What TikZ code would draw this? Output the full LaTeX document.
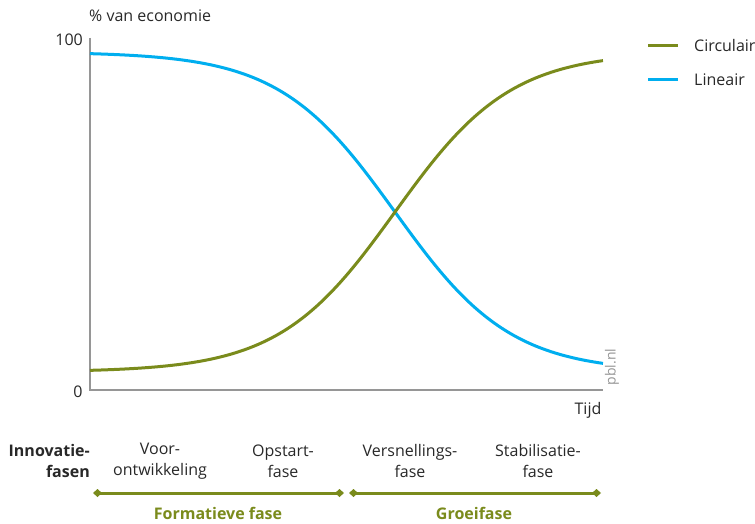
\documentclass[tikz,border=0pt]{standalone}
\usepackage{fontspec}
\setmainfont{Open Sans}
\usetikzlibrary{arrows.meta}
\definecolor{circgreen}{RGB}{122,139,28}
\definecolor{linblue}{RGB}{0,174,239}
\definecolor{axisgrey}{RGB}{150,150,150}
\definecolor{txtgrey}{RGB}{40,40,40}
\begin{document}
\begin{tikzpicture}[
    x=1pt, y=-1pt,
    lbl/.style = {text=txtgrey, font=\fontsize{16}{21}\selectfont, inner sep=0pt},
    phase/.style = {lbl, align=center},
    period/.style = {text=circgreen, font=\fontsize{16}{21}\selectfont\bfseries, inner sep=0pt},
    span/.style = {circgreen, line width=3pt, {Diamond[length=9pt,width=8pt]}-{Diamond[length=9pt,width=8pt]}},
    curve/.style = {line width=3pt}
  ]
  \useasboundingbox (0,0) rectangle (755,524);

  % axes
  \coordinate (top) at (90,38);
  \coordinate (orig) at (90,390);
  \coordinate (end) at (603,390);
  \draw[axisgrey, line width=1.2pt] (top) -- (orig) -- (end);

  \node[lbl, anchor=west] (yl) at (89,16) {\% van economie};
  \node[lbl, anchor=east] (hundred) at (83,40) {100};
  \node[lbl] (zero) at (78,392) {0};
  \node[lbl] (tijd) at (588,410) {Tijd};
  \node[lbl, text=axisgrey, font=\fontsize{14}{16}\selectfont, rotate=90] (pbl) at (612,367) {pbl.nl};

  % curves
  \draw[curve, linblue] plot[domain=90:603, samples=120, smooth]
    (\x, {52+320/(1+exp(-(\x-395)/58))});
  \draw[curve, circgreen] plot[domain=90:603, samples=120, smooth]
    (\x, {372-320/(1+exp(-(\x-395)/58))});

  % legend
  \coordinate (c1) at (648,46);
  \coordinate (c2) at (678,46);
  \coordinate (l1) at (648,80);
  \coordinate (l2) at (678,80);
  \draw[circgreen, line width=3pt] (c1) -- (c2);
  \draw[linblue, line width=3pt] (l1) -- (l2);
  \node[lbl, anchor=west] (circ) at (694,46) {Circulair};
  \node[lbl, anchor=west] (lin) at (694,80) {Lineair};

  % phases
  \node[phase, align=right, anchor=east, font=\fontsize{16}{21}\selectfont\bfseries] (innov) at (90,461) {Innovatie-\\fasen};
  \node[phase] (voor) at (160,461) {Voor-\\ontwikkeling};
  \node[phase] (opst) at (283,461) {Opstart-\\fase};
  \node[phase] (versn) at (410,461) {Versnellings-\\fase};
  \node[phase] (stab) at (538,461) {Stabilisatie-\\fase};

  \coordinate (f1) at (93,493);
  \coordinate (f2) at (344,493);
  \coordinate (g1) at (349,493);
  \coordinate (g2) at (601,493);
  \draw[span] (f1) -- (f2);
  \draw[span] (g1) -- (g2);
  \node[period] (form) at (218,513) {Formatieve fase};
  \node[period] (groei) at (474,513) {Groeifase};
\end{tikzpicture}
\end{document}
